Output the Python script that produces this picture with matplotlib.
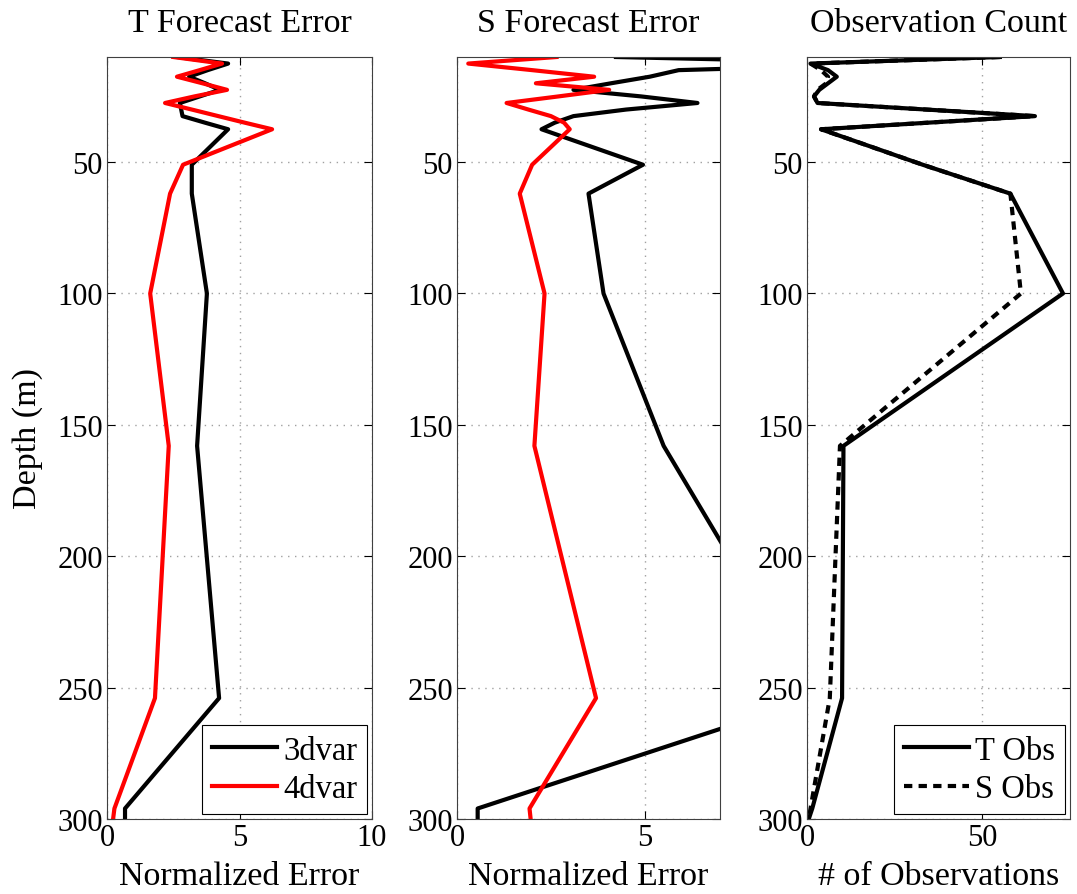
import numpy as np
import matplotlib
matplotlib.use('Agg')
from matplotlib import pyplot as plt

# depth levels (m) shared by all profiles
depth = [10, 12.5, 15, 17.5, 20, 22.5, 25, 27.5, 30, 32.5, 35, 37.5, 51, 62, 100, 158, 254, 296, 300]

# T forecast error
t_3dvar = [2.64, 4.57, 3.8, 3.1, 3.7, 4.26, 3.5, 2.75, 2.8, 2.85, 3.7, 4.57, 3.2, 3.2, 3.77, 3.4, 4.23, 0.68, 0.68]
t_4dvar = [2.5, 4.34, 3.5, 2.64, 3.6, 4.53, 3.3, 2.19, 3.2, 4.2, 5.2, 6.23, 2.87, 2.38, 1.63, 2.33, 1.81, 0.28, 0.23]

# S forecast error
s_3dvar = [4.23, 12.0, 5.9, 5.13, 4.1, 3.1, 4.9, 6.4, 4.5, 3.1, 2.6, 2.25, 4.95, 3.5, 3.9, 5.5, 9.5, 0.55, 0.55]
s_4dvar = [2.65, 0.3, 2.0, 3.65, 2.1, 4.05, 2.7, 1.32, 1.9, 2.5, 2.85, 3.0, 2.0, 1.67, 2.33, 2.06, 3.7, 1.93, 1.96]

# observation counts
t_obs = [55, 1, 6, 8.5, 6, 3.5, 2, 3, 34, 65, 34.5, 4, 33, 58, 73, 10.4, 10, 1.5, 0.5]
s_obs = [55, 1, 4, 6, 5.5, 3, 2, 3, 34, 65, 34.5, 4, 33, 58, 61, 9.4, 6.5, 1, 0.5]

titles = ['T Forecast Error', 'S Forecast Error', 'Observation Count']
xlabels = ['Normalized Error', 'Normalized Error', '# of Observations']

plt.rcParams['font.family'] = ['Liberation Serif', 'DejaVu Serif']
plt.rcParams['font.size'] = 22

fig = plt.figure(figsize=(10.77, 8.95), dpi=100)
lefts = [107, 457, 807]
widths = [265, 263, 263]
axes = [fig.add_axes([l / 1077, 75 / 895, w / 1077, 762 / 895]) for l, w in zip(lefts, widths)]

ax1, ax2, ax3 = axes
ax1.plot(t_3dvar, depth, color='black', lw=3, label='3dvar')
ax1.plot(t_4dvar, depth, color='red', lw=3, label='4dvar')
ax1.set_xlim(0, 10)
ax1.set_xticks([0, 5, 10])

ax2.plot(s_3dvar, depth, color='black', lw=3)
ax2.plot(s_4dvar, depth, color='red', lw=3)
ax2.set_xlim(0, 7)
ax2.set_xticks([0, 5])

ax3.plot(t_obs, depth, color='black', lw=3, label='T Obs')
ax3.plot(s_obs, depth, color='black', lw=3, ls=(0, (2, 1.5)), label='S Obs')
ax3.set_xlim(0, 75)
ax3.set_xticks([0, 50])

for ax, title, xl in zip(axes, titles, xlabels):
    ax.set_ylim(300, 10)
    ax.set_yticks([50, 100, 150, 200, 250, 300])
    ax.set_title(title, fontsize=24.5, pad=19)
    ax.set_xlabel(xl, fontsize=24.5, labelpad=6)
    ax.grid(True, ls=(0, (1, 4)), color='#a0a0a0', lw=1)
    ax.tick_params(direction='in', top=True, right=True, length=6, width=0.8, pad=3, labelsize=22)
    for s in ax.spines.values():
        s.set_linewidth(0.8)
        s.set_color('#404040')

ax1.set_ylabel('Depth (m)', fontsize=24.5, labelpad=10)

for ax in (ax1, ax3):
    leg = ax.legend(loc='lower right', fancybox=False, framealpha=1, edgecolor='black',
                    handlelength=2.0, borderpad=0.3, labelspacing=0.25, handletextpad=0.2,
                    borderaxespad=0.15, fontsize=23.5)
    leg.get_frame().set_linewidth(0.8)

fig.savefig('out.png', dpi=100)
